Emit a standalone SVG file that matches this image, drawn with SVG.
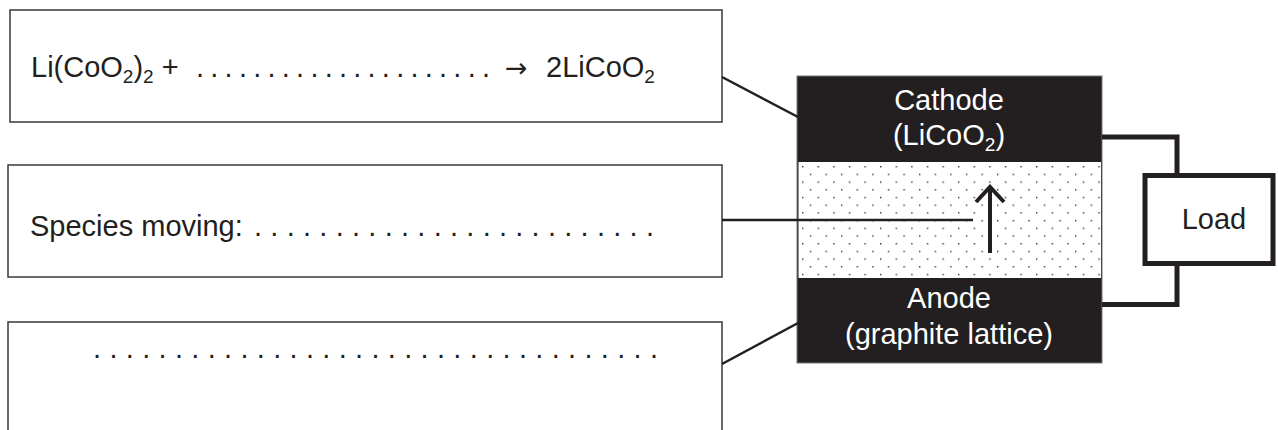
<svg xmlns="http://www.w3.org/2000/svg" width="1278" height="430" viewBox="0 0 1278 430">
<defs>
<style>
text{font-family:"Liberation Sans",Arial,sans-serif;font-size:29px;fill:#231f20}
.w{fill:#ffffff}
.sub{font-size:19px}
.arr{font-family:"DejaVu Sans",sans-serif;font-size:27px}
.box{fill:#ffffff;stroke:#3a3a3a;stroke-width:1.5}
.ln{stroke:#231f20;stroke-width:2.5;fill:none}
.wire{stroke:#231f20;stroke-width:5;fill:none}
</style>
<pattern id="stip" width="15.6" height="15.4" patternUnits="userSpaceOnUse" x="802" y="166">
<rect x="0" y="0" width="1.4" height="1.4" fill="#333"/>
<rect x="7.8" y="7.7" width="1.4" height="1.4" fill="#333"/>
</pattern>
</defs>
<g id="box1">
<rect class="box" x="10" y="10" width="712" height="112"/>
<text x="31" y="77">Li(CoO<tspan class="sub" dy="6">2</tspan><tspan dy="-6">)</tspan><tspan class="sub" dy="6">2</tspan><tspan dy="-6"> +</tspan></text>
<text x="196" y="77" textLength="294" lengthAdjust="spacing">. . . . . . . . . . . . . . . . . . . . .</text>
<text class="arr" x="505" y="77">→</text>
<text x="546" y="77">2LiCoO<tspan class="sub" dy="6">2</tspan></text>
</g>
<g id="box2">
<rect class="box" x="8" y="165" width="714" height="112"/>
<text x="30" y="236">Species moving:</text>
<text x="254" y="236" textLength="400" lengthAdjust="spacing">. . . . . . . . . . . . . . . . . . . . . . . . .</text>
</g>
<g id="box3">
<rect class="box" x="8" y="322" width="714" height="130"/>
<text x="93" y="358" textLength="565" lengthAdjust="spacing">. . . . . . . . . . . . . . . . . . . . . . . . . . . . . . . . . . .</text>
</g>
<g id="battery">
<rect x="797" y="76" width="305" height="287" fill="#231f20" stroke="#777" stroke-width="1"/>
<rect x="798.5" y="162" width="302.5" height="116" fill="#ffffff"/>
<rect x="798.5" y="162" width="302.5" height="116" fill="url(#stip)"/>
<text class="w" x="949" y="110" text-anchor="middle">Cathode</text>
<text class="w" x="949" y="145" text-anchor="middle">(LiCoO<tspan class="sub" dy="6">2</tspan><tspan dy="-6">)</tspan></text>
<text class="w" x="949" y="308" text-anchor="middle">Anode</text>
<text class="w" x="949" y="344" text-anchor="middle">(graphite lattice)</text>
<g id="ion-arrow">
<line x1="990" y1="253" x2="990" y2="187" stroke="#231f20" stroke-width="4"/>
<polyline points="976,202 990,187 1004,202" fill="none" stroke="#231f20" stroke-width="4"/>
</g>
</g>
<g id="load">
<rect x="1145" y="175.5" width="128" height="88" fill="#ffffff" stroke="#231f20" stroke-width="5"/>
<text x="1214" y="229" text-anchor="middle">Load</text>
</g>
<g id="connectors">
<line class="ln" x1="722" y1="77" x2="798" y2="117"/>
<line class="ln" x1="722" y1="220" x2="973" y2="220"/>
<line class="ln" x1="722" y1="364" x2="798" y2="323"/>
<polyline class="wire" points="1102,137 1177,137 1177,173"/>
<polyline class="wire" points="1102,304.5 1177,304.5 1177,266"/>
</g>
</svg>
